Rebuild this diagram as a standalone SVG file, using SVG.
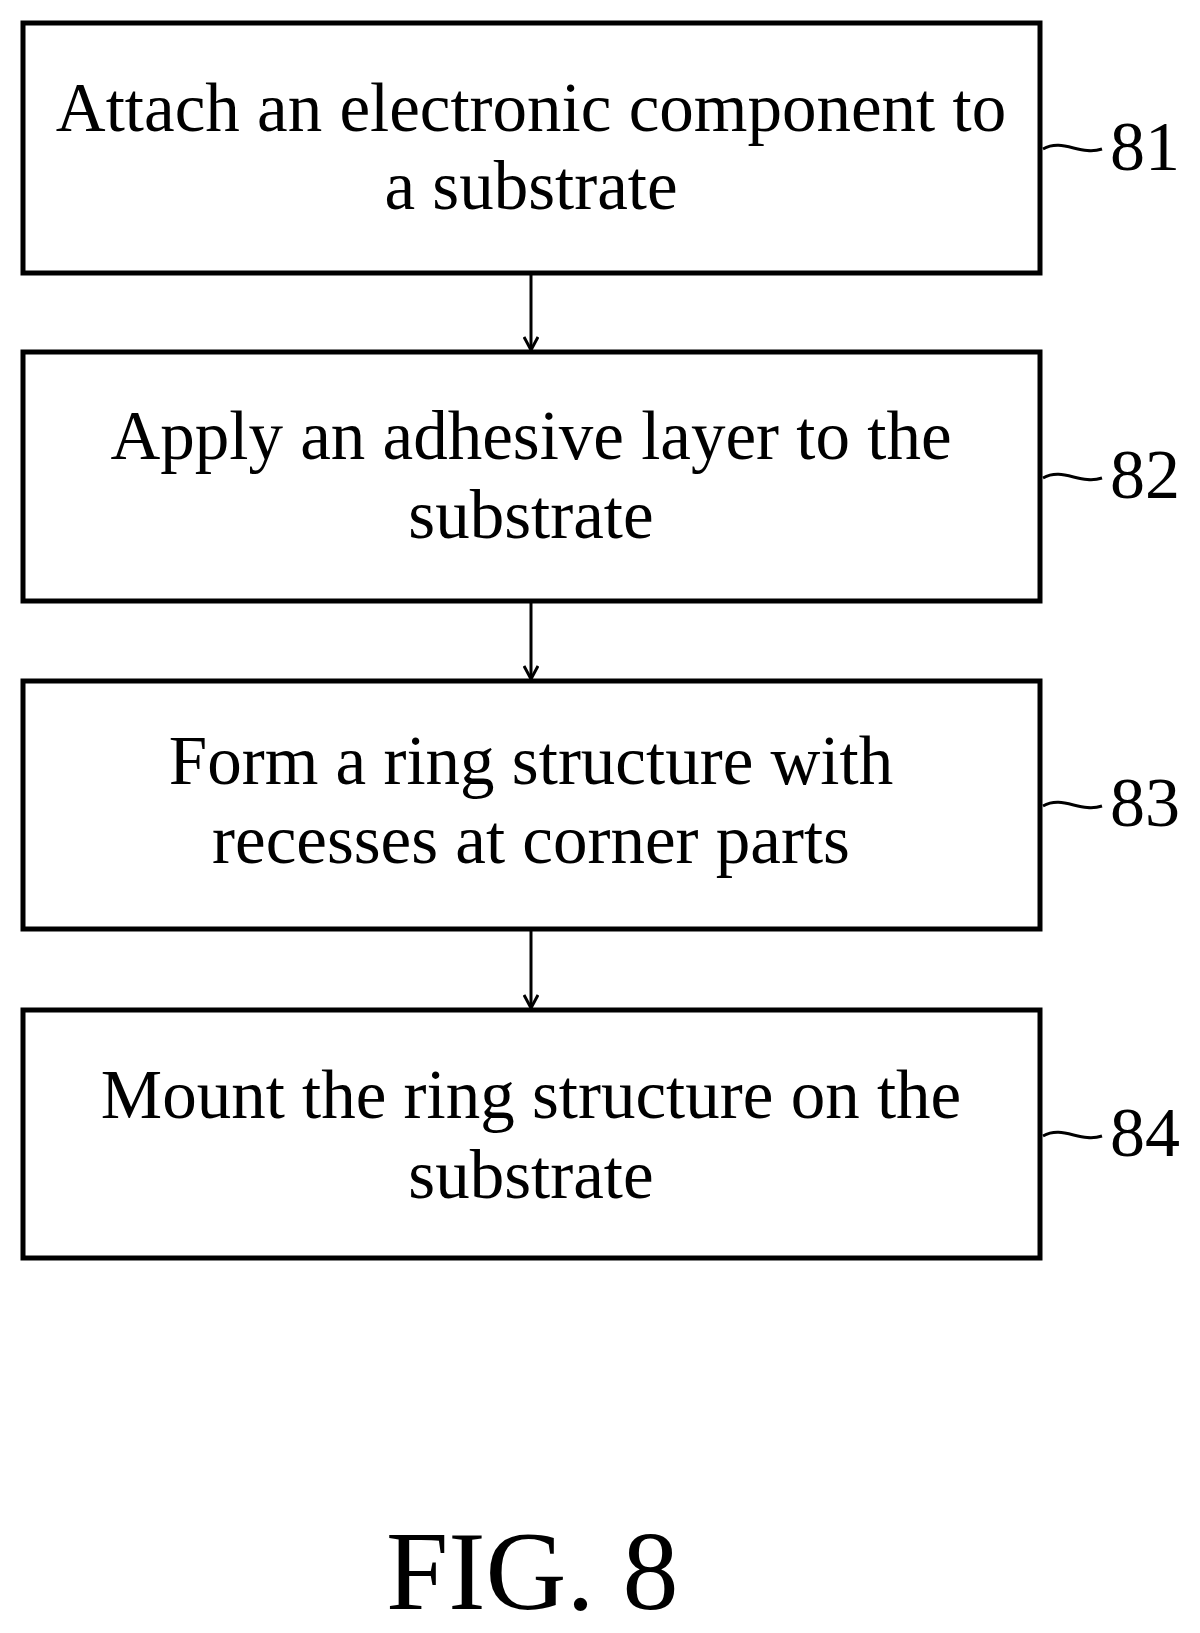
<svg xmlns="http://www.w3.org/2000/svg" width="1200" height="1633" viewBox="0 0 1200 1633">
<defs><style>
.b{fill:#fff;stroke:#000;stroke-width:5}
.t{font-family:"Liberation Serif",serif;font-size:69px;text-anchor:middle}
.n{font-family:"Liberation Serif",serif;font-size:70px}
.c{fill:none;stroke:#000;stroke-width:3}
</style>
<marker id="a" markerWidth="16" markerHeight="16" refX="14" refY="8" orient="auto" markerUnits="userSpaceOnUse"><path d="M1,1 L14,8 L1,15" fill="none" stroke="#000" stroke-width="3"/></marker></defs>
<rect width="1200" height="1633" fill="#fff"/>
<g id="n81"><rect class="b" x="23" y="23" width="1017" height="250"/><text class="t" x="531" y="131">Attach an electronic component to</text><text class="t" x="531" y="209">a substrate</text></g>
<g id="n82"><rect class="b" x="23" y="352" width="1017" height="249"/><text class="t" x="531" y="459">Apply an adhesive layer to the</text><text class="t" x="531" y="538">substrate</text></g>
<g id="n83"><rect class="b" x="23" y="681" width="1017" height="248"/><text class="t" x="531" y="784">Form a ring structure with</text><text class="t" x="531" y="863">recesses at corner parts</text></g>
<g id="n84"><rect class="b" x="23" y="1010" width="1017" height="248"/><text class="t" x="531" y="1118">Mount the ring structure on the</text><text class="t" x="531" y="1198">substrate</text></g>
<g id="connectors">
<line class="c" x1="531" y1="273" x2="531" y2="350" marker-end="url(#a)"/>
<line class="c" x1="531" y1="601" x2="531" y2="679" marker-end="url(#a)"/>
<line class="c" x1="531" y1="929" x2="531" y2="1008" marker-end="url(#a)"/>
<path class="c" d="M1043,149 C1063,138 1080,156 1102,149"/>
<path class="c" d="M1043,478 C1063,467 1080,485 1102,478"/>
<path class="c" d="M1043,806 C1063,795 1080,813 1102,806"/>
<path class="c" d="M1043,1136 C1063,1125 1080,1143 1102,1136"/>
</g>
<g id="labels">
<text class="n" x="1110" y="170">81</text><text class="n" x="1110" y="498">82</text><text class="n" x="1110" y="826">83</text><text class="n" x="1110" y="1156">84</text>
<text x="386" y="1609" style="font-family:'Liberation Serif',serif;font-size:112px">FIG.  8</text>
</g>
</svg>
